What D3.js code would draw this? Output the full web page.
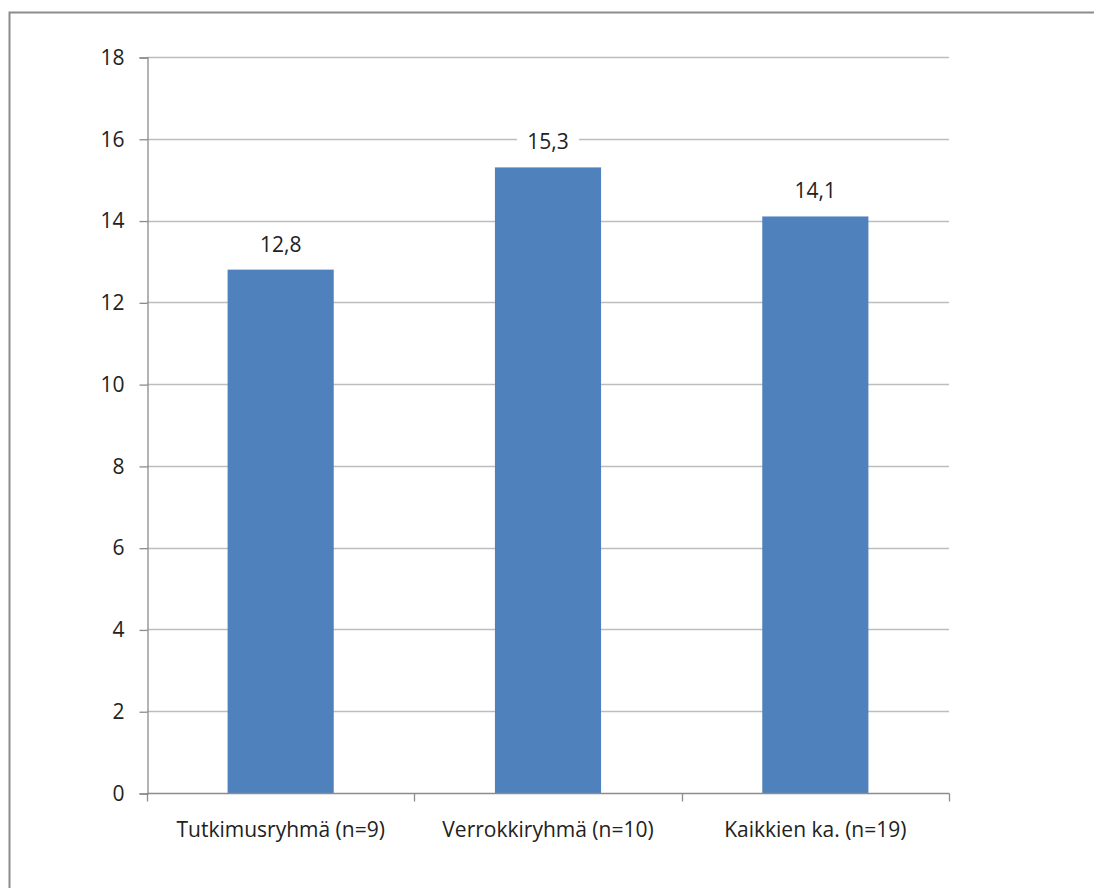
<!DOCTYPE html>
<html>
<head>
<meta charset="utf-8">
<script src="https://cdn.jsdelivr.net/npm/d3@7"></script>
<style>
  html, body { margin: 0; padding: 0; background: #fff; }
  svg { display: block; }
  text { font-family: "Open Sans", "Noto Sans", sans-serif; fill: #222; }
</style>
</head>
<body>
<svg id="chart" width="1094" height="888"></svg>
<script>
// Average values per group
const categories = ["Tutkimusryhmä (n=9)", "Verrokkiryhmä (n=10)", "Kaikkien ka. (n=19)"];
const values = [12.8, 15.3, 14.1];
const valueLabels = ["12,8", "15,3", "14,1"];
const yTicks = [0, 2, 4, 6, 8, 10, 12, 14, 16, 18];

const svg = d3.select("#chart");
const W = 1094, H = 888;
const fontSize = "21px";

// Outer chart frame
svg.append("rect")
  .attr("x", 9.5).attr("y", 12.5)
  .attr("width", W + 20).attr("height", H + 20)
  .attr("fill", "none").attr("stroke", "#8c8c8c").attr("stroke-width", 2);

const plotLeft = 147, plotRight = 949, plotTop = 57, plotBottom = 793;

const x = d3.scaleBand().domain(categories).range([plotLeft, plotRight]).paddingInner(0.603).paddingOuter(0.3015);
const y = d3.scaleLinear().domain([0, 18]).range([plotBottom, plotTop]);

// Horizontal gridlines
svg.append("g").selectAll("line").data(yTicks.filter(d => d > 0)).join("line")
  .attr("x1", plotLeft).attr("x2", plotRight)
  .attr("y1", d => Math.round(y(d)) + 0.5).attr("y2", d => Math.round(y(d)) + 0.5)
  .attr("stroke", "#bdbdbd").attr("stroke-width", 1.3);

// Bars
svg.append("g").selectAll("rect").data(values).join("rect")
  .attr("x", (d, i) => x(categories[i]))
  .attr("width", x.bandwidth())
  .attr("y", d => y(d))
  .attr("height", d => y(0) - y(d))
  .attr("fill", "#4f81bd");

// Y axis
const yAxis = d3.axisLeft(y).tickValues(yTicks).tickSize(8).tickPadding(15).tickFormat(d3.format("d"));
const gy = svg.append("g").attr("transform", `translate(${plotLeft + 0.5},0.5)`).call(yAxis);
gy.select(".domain").attr("stroke", "#8c8c8c").attr("stroke-width", 1.3);
gy.selectAll(".tick line").attr("stroke", "#8c8c8c").attr("stroke-width", 1.3);
gy.selectAll(".tick text").style("font-size", fontSize).style("font-family", null).attr("fill", "#222");
gy.attr("font-family", null);

// X axis with tick marks at category boundaries
const gx = svg.append("g").attr("transform", `translate(0,${plotBottom + 0.5})`);
gx.append("line").attr("x1", plotLeft).attr("x2", plotRight + 0.5).attr("y1", 0).attr("y2", 0)
  .attr("stroke", "#8c8c8c").attr("stroke-width", 1.3);
const boundaries = d3.range(categories.length + 1).map(i => plotLeft + i * (plotRight - plotLeft) / categories.length);
gx.selectAll("line.tk").data(boundaries).join("line").attr("class", "tk")
  .attr("x1", d => Math.round(d) + 0.5).attr("x2", d => Math.round(d) + 0.5)
  .attr("y1", 0).attr("y2", 8)
  .attr("stroke", "#8c8c8c").attr("stroke-width", 1.3);
gx.selectAll("text").data(categories).join("text")
  .attr("x", d => x(d) + x.bandwidth() / 2)
  .attr("y", 43)
  .attr("text-anchor", "middle")
  .style("font-size", fontSize)
  .text(d => d);

// Value labels with white backing
const lbl = svg.append("g").selectAll("g").data(values).join("g")
  .attr("transform", (d, i) => `translate(${x(categories[i]) + x.bandwidth() / 2},${y(d) - 18})`);
lbl.append("rect").attr("x", -31).attr("y", -22).attr("width", 62).attr("height", 28).attr("fill", "#fff");
lbl.append("text")
  .attr("text-anchor", "middle")
  .style("font-size", fontSize)
  .text((d, i) => valueLabels[i]);
</script>
</body>
</html>
